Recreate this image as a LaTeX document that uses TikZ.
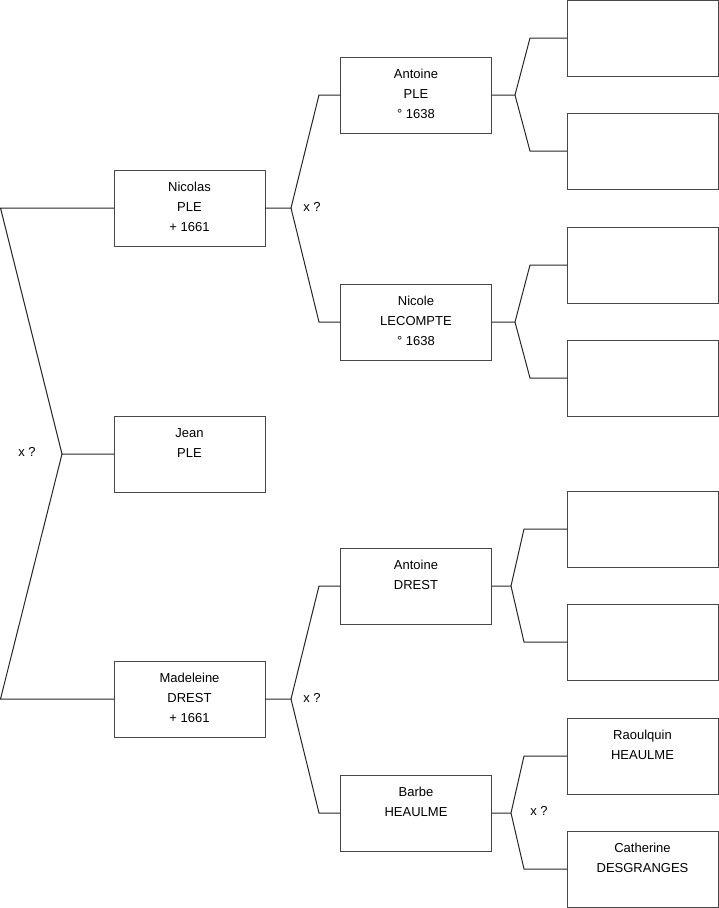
\documentclass[tikz,border=0pt]{standalone}
\usepackage{fontspec}
\setmainfont{Liberation Sans}
\begin{document}
\begin{tikzpicture}[x=1pt,y=-1pt,
  box/.style={draw=black!72,line width=1pt,minimum width=151pt,minimum height=76pt,inner sep=0pt,outer sep=0pt},
  lab/.style={inner sep=0pt,anchor=north,yshift=-12pt,align=center,font=\fontsize{13}{20}\selectfont},
  xq/.style={inner sep=0pt,font=\fontsize{13}{20}\selectfont},
  con/.style={draw=black!85,line width=1pt}]
\useasboundingbox (0,0) rectangle (719,908);
% column 1
\node[box,label={[lab]north:Nicolas\\PLE\\+ 1661}] (nicolas) at (189.5,208) {};
\node[box,label={[lab]north:Jean\\PLE}] (jean) at (189.5,454) {};
\node[box,label={[lab]north:Madeleine\\DREST\\+ 1661}] (madeleine) at (189.5,699) {};
% column 2
\node[box,label={[lab]north:Antoine\\PLE\\° 1638}] (antp) at (416,95) {};
\node[box,label={[lab]north:Nicole\\LECOMPTE\\° 1638}] (nicole) at (416,322) {};
\node[box,label={[lab]north:Antoine\\DREST}] (antd) at (416,586) {};
\node[box,label={[lab]north:Barbe\\HEAULME}] (barbe) at (416,813) {};
% column 3
\node[box] (r1) at (642.5,38) {};
\node[box] (r2) at (642.5,151) {};
\node[box] (r3) at (642.5,265) {};
\node[box] (r4) at (642.5,378) {};
\node[box] (r5) at (642.5,529) {};
\node[box] (r6) at (642.5,642) {};
\node[box,label={[lab]north:Raoulquin\\HEAULME}] (r7) at (642.5,756) {};
\node[box,label={[lab]north:Catherine\\DESGRANGES}] (r8) at (642.5,869) {};
% x ? labels
\node[xq] (x0) at (27,452) {x ?};
\node[xq] (x1) at (312,207) {x ?};
\node[xq] (x2) at (312,698) {x ?};
\node[xq] (x3) at (539,811) {x ?};
% left fork
\coordinate (L1) at (0.5,208);
\coordinate (L2) at (0.5,699);
\coordinate (LF) at (62,454);
\draw[con] (nicolas.west) -- (L1) -- (LF) -- (jean.west);
\draw[con] (madeleine.west) -- (L2) -- (LF);
% Nicolas fork
\coordinate (F1) at (291,208);
\draw[con] (nicolas.east) -- (F1) -- (319,95) -- (antp.west);
\draw[con] (F1) -- (319,322) -- (nicole.west);
% Madeleine fork
\coordinate (F2) at (291,699);
\draw[con] (madeleine.east) -- (F2) -- (319,586) -- (antd.west);
\draw[con] (F2) -- (319,813) -- (barbe.west);
% right forks
\coordinate (G1) at (515,95);
\draw[con] (antp.east) -- (G1) -- (530,38) -- (r1.west);
\draw[con] (G1) -- (530,151) -- (r2.west);
\coordinate (G2) at (515,322);
\draw[con] (nicole.east) -- (G2) -- (530,265) -- (r3.west);
\draw[con] (G2) -- (530,378) -- (r4.west);
\coordinate (G3) at (511,586);
\draw[con] (antd.east) -- (G3) -- (524,529) -- (r5.west);
\draw[con] (G3) -- (524,642) -- (r6.west);
\coordinate (G4) at (511,813);
\draw[con] (barbe.east) -- (G4) -- (524,756) -- (r7.west);
\draw[con] (G4) -- (524,869) -- (r8.west);
\end{tikzpicture}
\end{document}
